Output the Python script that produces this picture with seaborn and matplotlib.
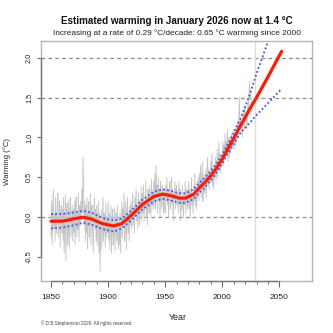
import matplotlib
matplotlib.use("Agg")
import numpy as np
import pandas as pd
import seaborn as sns
import matplotlib.pyplot as plt
import matplotlib.transforms as mtrans
from matplotlib.ticker import MultipleLocator

# ---------------- data ----------------
# semi-annual samples of the observed anomalies, 1850.0 .. 2026.0
obs_values = [
    # 1850s
    -0.25, 0.20, -0.35, 0.10, 0.35, -0.15, 0.05, -0.30, 0.25, -0.10, -0.20, 0.15, 0.30, -0.25, -0.05, 0.20, -0.38, 0.05, 0.15, -0.20,
    # 1860s
    0.10, -0.30, 0.25, -0.45, -0.10, 0.28, -0.55, 0.00, 0.18, -0.35, -0.15, 0.22, -0.40, 0.05, 0.25, -0.25, -0.05, 0.15, -0.30, 0.10,
    # 1870s
    -0.20, 0.20, -0.35, 0.10, 0.25, -0.25, 0.05, -0.15, 0.30, -0.30, 0.15, -0.10, 0.20, -0.05, 0.35, 0.05, 0.75, 0.30, -0.10, 0.20,
    # 1880s
    -0.30, 0.15, -0.20, 0.25, -0.40, 0.05, 0.20, -0.25, -0.05, 0.30, -0.35, 0.10, 0.15, -0.20, -0.45, 0.05, 0.25, -0.15, 0.10, -0.30,
    # 1890s
    0.15, -0.35, -0.10, 0.20, -0.45, 0.05, -0.68, -0.20, 0.10, -0.40, -0.15, 0.25, -0.30, 0.05, -0.05, -0.38, 0.18, -0.25, 0.00, -0.20,
    # 1900s
    0.20, -0.30, 0.05, -0.40, -0.15, 0.15, -0.45, -0.05, 0.10, -0.35, -0.20, 0.12, -0.42, -0.10, 0.05, -0.30, 0.15, -0.25, -0.40, 0.00,
    # 1910s
    -0.35, 0.05, -0.45, -0.15, 0.20, -0.25, 0.10, -0.05, 0.30, -0.30, -0.10, 0.20, -0.40, 0.00, 0.25, -0.20, 0.05, -0.30, 0.15, -0.10,
    # 1920s
    0.20, -0.15, 0.10, 0.30, -0.10, 0.05, -0.20, 0.25, 0.00, 0.35, -0.05, 0.15, -0.15, 0.30, 0.10, -0.10, 0.20, 0.05, 0.38, -0.05,
    # 1930s
    0.30, 0.05, 0.40, -0.05, 0.20, 0.10, 0.45, 0.00, 0.25, -0.10, 0.35, 0.15, 0.05, 0.40, 0.20, 0.00, 0.48, 0.15, 0.30, 0.10,
    # 1940s
    0.45, 0.15, 0.55, 0.10, 0.65, 0.25, 0.40, 0.05, 0.50, 0.20, 0.35, 0.00, 0.45, 0.25, 0.10, 0.40, 0.30, 0.05, 0.35, 0.15,
    # 1950s
    0.05, 0.40, 0.20, 0.50, 0.15, 0.35, 0.00, 0.30, 0.45, 0.10, 0.25, 0.50, 0.15, 0.35, -0.05, 0.30, 0.20, 0.45, 0.10, 0.35,
    # 1960s
    0.40, 0.15, 0.30, 0.05, 0.45, 0.20, 0.35, -0.05, 0.25, 0.10, 0.40, 0.20, 0.00, 0.30, 0.15, 0.45, 0.05, 0.25, 0.35, 0.10,
    # 1970s
    0.20, 0.45, 0.10, 0.35, 0.00, 0.30, 0.50, 0.15, 0.25, 0.05, 0.40, 0.20, 0.55, 0.15, 0.30, 0.10, 0.45, 0.25, 0.50, 0.20,
    # 1980s
    0.55, 0.30, 0.65, 0.25, 0.45, 0.70, 0.20, 0.40, 0.55, 0.30, 0.35, 0.60, 0.25, 0.50, 0.75, 0.40, 0.60, 0.35, 0.55, 0.45,
    # 1990s
    0.70, 0.45, 0.80, 0.40, 0.55, 0.35, 0.65, 0.50, 0.75, 0.45, 0.60, 0.85, 0.50, 0.70, 0.95, 0.60, 0.80, 0.55, 0.75, 0.65,
    # 2000s
    0.70, 0.95, 0.65, 0.90, 0.80, 1.05, 0.75, 0.95, 0.85, 1.10, 0.70, 0.90, 1.00, 0.75, 0.95, 0.80, 1.05, 0.85, 1.00, 0.90,
    # 2010s
    1.10, 0.85, 1.00, 0.90, 1.15, 0.95, 1.05, 1.20, 1.00, 1.30, 1.50, 1.15, 1.25, 1.05, 1.20, 1.00, 1.30, 1.15, 1.35, 1.10,
    # 2020 .. 2026
    1.40, 1.20, 1.30, 1.10, 1.25, 1.45, 1.30, 1.60, 1.70, 1.50, 1.55, 1.40, 1.45,
]
obs_years = 1850 + 0.5 * np.arange(len(obs_values))

trend_years = [1850, 1860, 1870, 1878, 1885, 1895, 1905, 1912, 1920, 1930, 1940, 1948, 1955,
               1962, 1968, 1975, 1980, 1985, 1990, 1995, 2000, 2005, 2010, 2016, 2020, 2025,
               2030, 2040, 2052]
trend = [-0.05, -0.05, -0.02, 0.00, -0.02, -0.08, -0.11, -0.08, 0.02, 0.16, 0.26, 0.29, 0.27,
         0.24, 0.24, 0.29, 0.37, 0.44, 0.52, 0.62, 0.73, 0.86, 0.99, 1.15, 1.25, 1.38,
         1.50, 1.76, 2.08]
upper = [0.04, 0.04, 0.06, 0.08, 0.06, -0.01, -0.04, -0.02, 0.08, 0.22, 0.32, 0.35, 0.33,
         0.30, 0.30, 0.35, 0.43, 0.50, 0.58, 0.68, 0.79, 0.92, 1.06, 1.24, 1.38, 1.58,
         1.80, 2.20, 2.70]
lower = [-0.14, -0.13, -0.10, -0.07, -0.09, -0.15, -0.18, -0.14, -0.04, 0.10, 0.20, 0.23, 0.21,
         0.18, 0.18, 0.23, 0.31, 0.38, 0.46, 0.56, 0.67, 0.80, 0.92, 1.06, 1.12, 1.20,
         1.28, 1.43, 1.61]

now_year = 2028.5
ref_levels = [0.0, 1.5, 2.0]
x_ticks = [1850, 1900, 1950, 2000, 2050]
y_ticks = [-0.5, 0.0, 0.5, 1.0, 1.5, 2.0]

title = "Estimated warming in January 2026 now at 1.4 \u00b0C"
subtitle = "Increasing at a rate of 0.29 \u00b0C/decade: 0.65 \u00b0C warming since 2000"
xlabel = "Year"
ylabel = "Warming (\u00b0C)"
credit = "\u00a9 D.B.Stephenson 2026. All rights reserved"

# ---------------- plotting ----------------
sns.set_theme(style="white")
plt.rcParams["font.family"] = ["Liberation Sans", "DejaVu Sans"]

W = H = 333
fig = plt.figure(figsize=(3.33, 3.33), dpi=100)
fig.patch.set_facecolor("white")
ax = fig.add_axes([41 / W, 1 - 281 / H, 271 / W, 240 / H])
ax.set_facecolor("white")

ax.set_xlim(1841.2, 2078.6)
ax.set_ylim(-0.80, 2.21)

for lv in ref_levels:
    ax.axhline(lv, color="#8c8c8c", lw=0.9, ls=(0, (3, 2.5)), zorder=0.5)
ax.axvline(now_year, color="#dcdcdc", lw=1.0, zorder=0.6)

obs_df = pd.DataFrame({"year": obs_years, "value": obs_values})
sns.lineplot(data=obs_df, x="year", y="value", color="#c4c4c4", lw=0.6, ax=ax, zorder=1)

band_df = pd.DataFrame({"year": trend_years, "upper": upper, "lower": lower, "trend": trend})
sns.lineplot(data=band_df, x="year", y="upper", color="#3b55f0", lw=1.3, ls=(0, (1, 1.3)), ax=ax, zorder=2)
sns.lineplot(data=band_df, x="year", y="lower", color="#3b55f0", lw=1.3, ls=(0, (1, 1.3)), ax=ax, zorder=2)
sns.lineplot(data=band_df, x="year", y="trend", color="#ff1a00", lw=2.3, ax=ax, zorder=3)

ax.set_xlabel("")
ax.set_ylabel("")

# frame and R-style axes
for sp in ax.spines.values():
    sp.set_color("#b4b4b4")
    sp.set_linewidth(1.0)
ax.plot([0, 0], [-0.5, 2.0], transform=mtrans.blended_transform_factory(ax.transAxes, ax.transData),
        color="#7a7a7a", lw=1.0, clip_on=False, zorder=5)
ax.plot([1850, 2050], [0, 0], transform=mtrans.blended_transform_factory(ax.transData, ax.transAxes),
        color="#7a7a7a", lw=1.0, clip_on=False, zorder=5)

ax.set_xticks(x_ticks)
ax.set_xticks([t for t in range(1850, 2051, 10) if t not in x_ticks], minor=True)
ax.set_yticks(y_ticks)
ax.set_yticklabels([f"{v:.1f}" for v in y_ticks], rotation=90, va="center")
ax.tick_params(axis="x", which="major", direction="out", length=4.2, width=0.8, color="#666666",
               labelsize=6.0, pad=5.5, labelcolor="#222222", bottom=True)
ax.tick_params(axis="x", which="minor", direction="out", length=2.0, width=0.7, color="#666666", bottom=True)
ax.tick_params(axis="y", which="major", direction="out", length=3.0, width=0.8, color="#666666",
               labelsize=5.3, pad=2.8, labelcolor="#222222", left=True)

fig.text(176.5 / W, 1 - 20.7 / H, title, ha="center", va="center", fontsize=7.1, fontweight="bold", color="#111111")
fig.text(177 / W, 1 - 33.3 / H, subtitle, ha="center", va="center", fontsize=5.95, color="#222222")
fig.text(6.7 / W, 1 - 161.7 / H, ylabel, ha="center", va="center", rotation=90, fontsize=5.6, color="#222222")
fig.text(177.5 / W, 1 - 317.3 / H, xlabel, ha="center", va="center", fontsize=6.4, color="#222222")
fig.text(41 / W, 1 - 323.3 / H, credit, ha="left", va="center", fontsize=3.3, color="#444444")

fig.savefig("out.png", dpi=100, facecolor="white")
